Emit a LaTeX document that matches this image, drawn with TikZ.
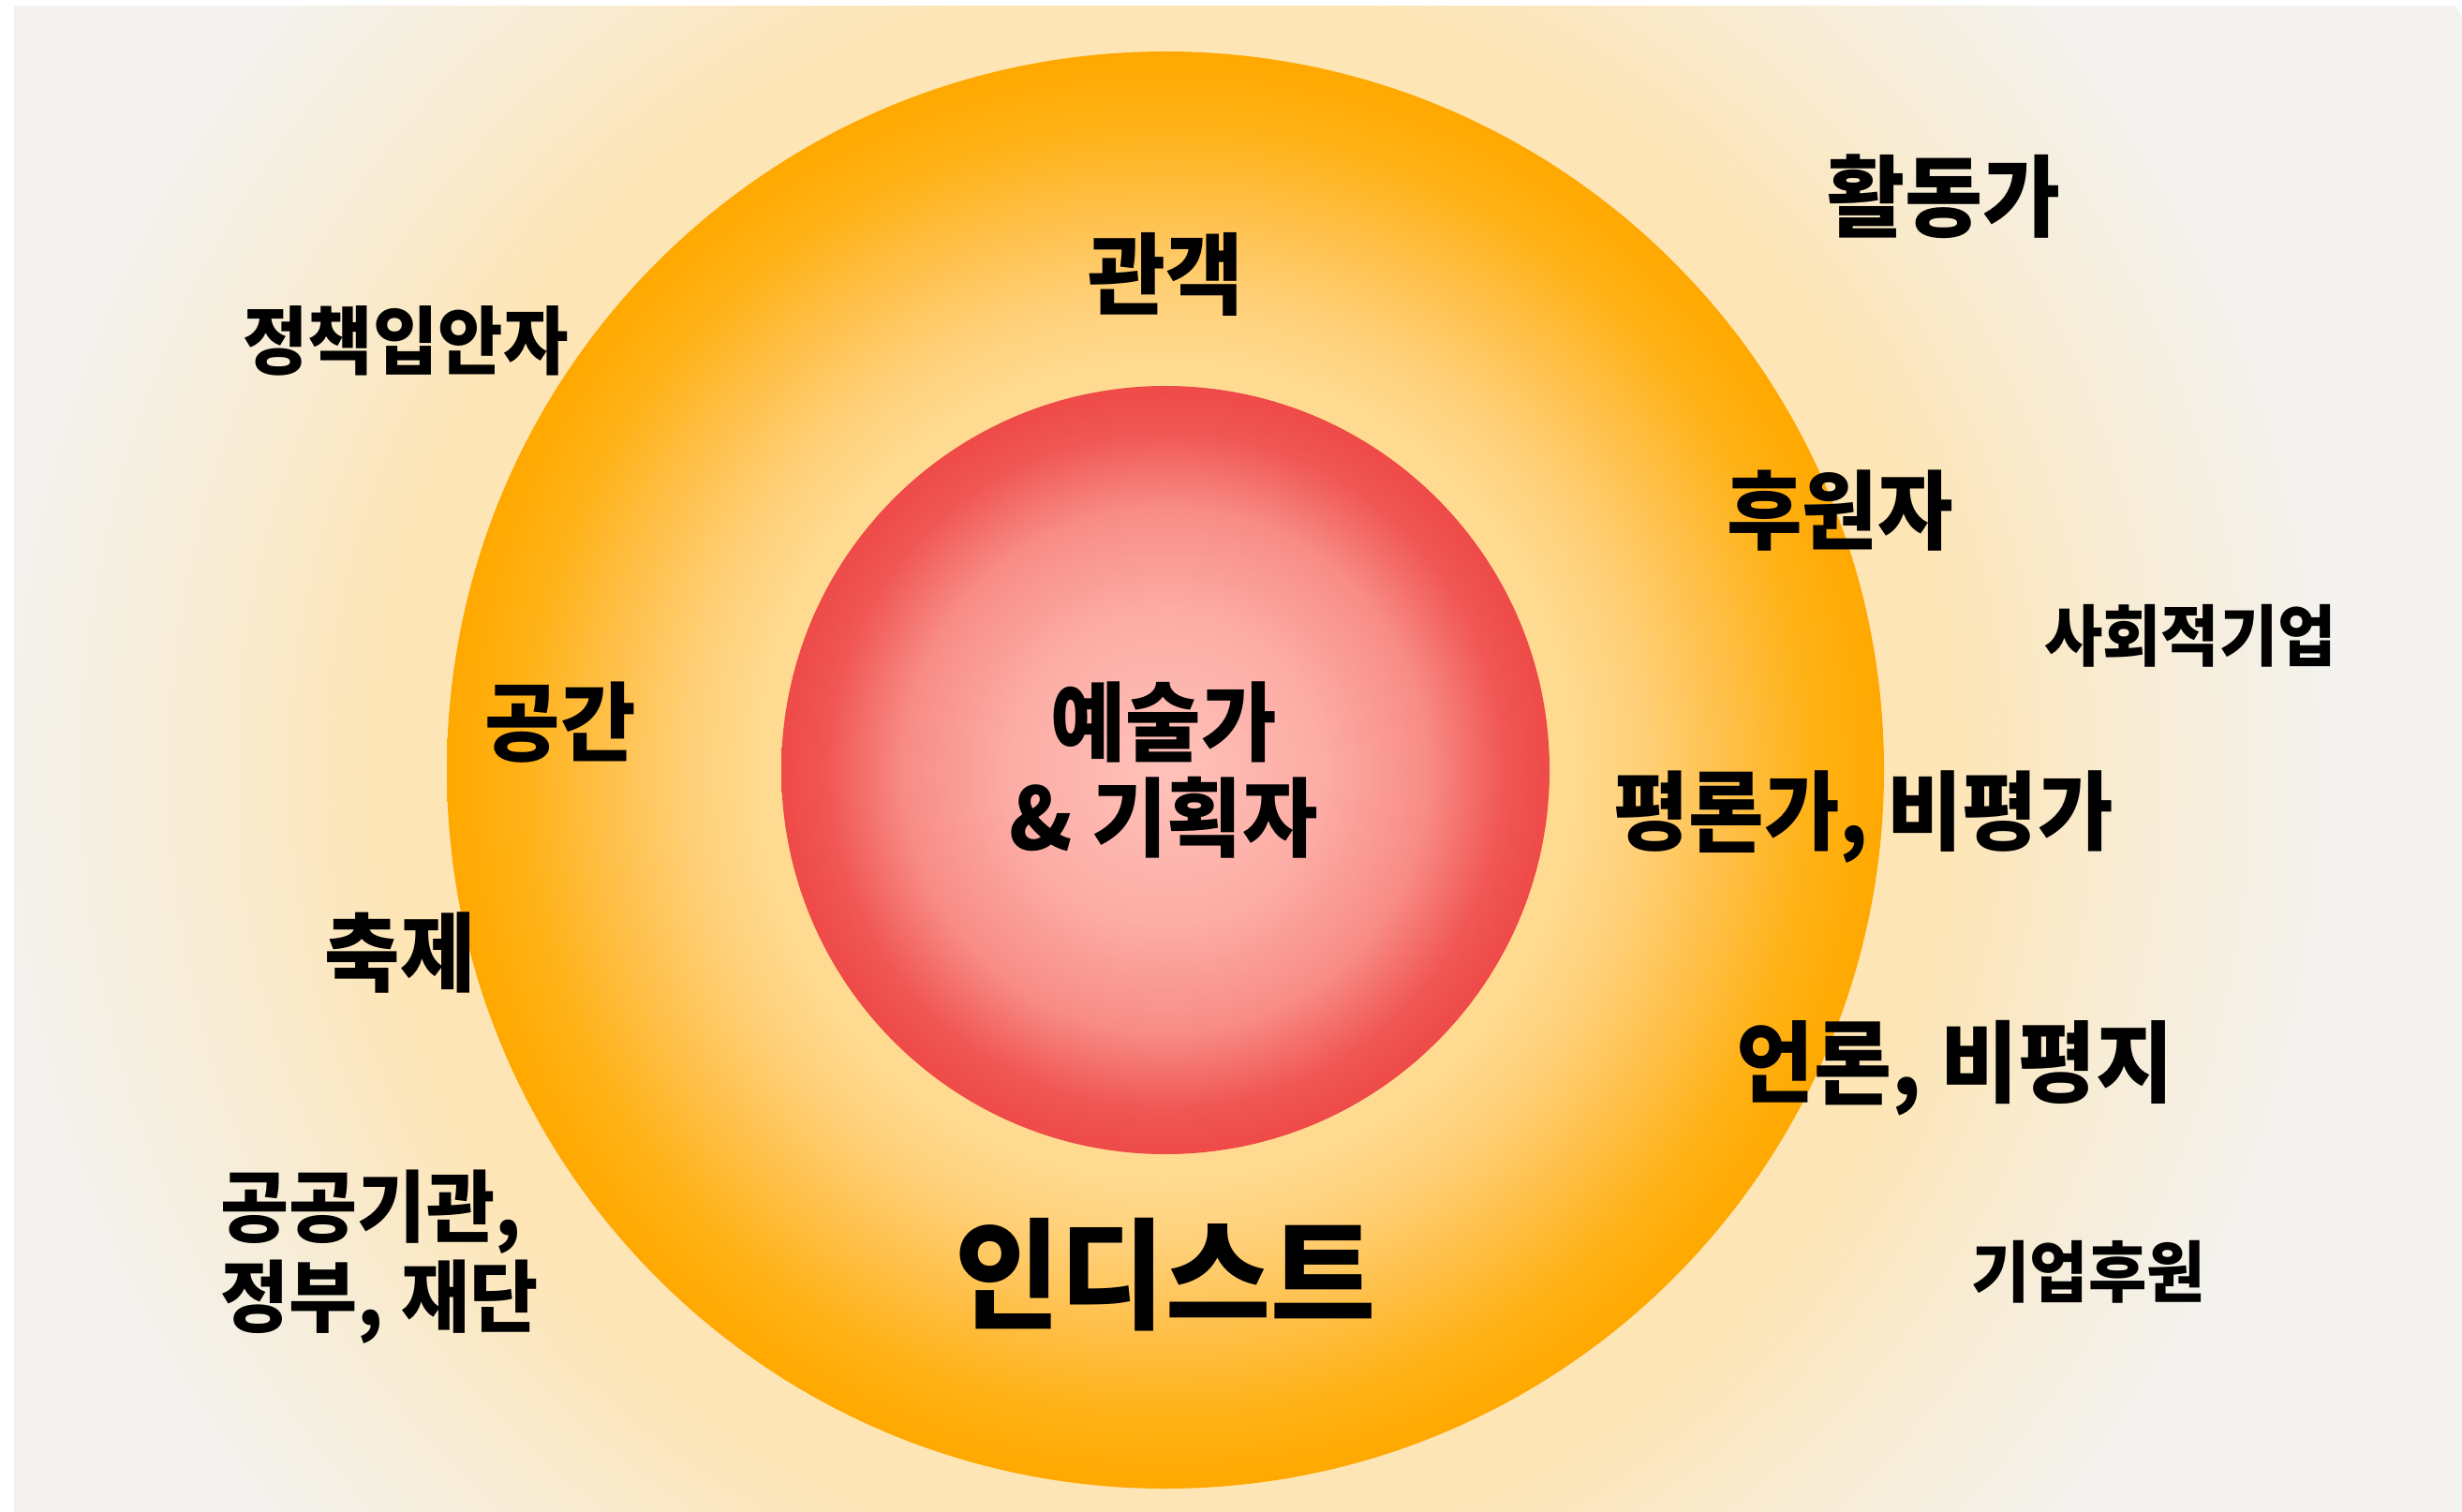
\documentclass[tikz,border=0pt]{standalone}
\usepackage{fontspec}
\setmainfont{Noto Sans CJK KR}[FakeStretch=0.95]
\definecolor{bgpeach}{HTML}{FDE5B5}
\definecolor{bggrey}{HTML}{F3F2EE}
\colorlet{bgmid}{bgpeach!45!bggrey}
\definecolor{orpale}{HTML}{FFDB92}
\definecolor{orlite}{HTML}{FFD079}
\definecolor{ormid}{HTML}{FFC04A}
\definecolor{ordeep}{HTML}{FFB216}
\definecolor{oredge}{HTML}{FFA800}
\definecolor{rdpale}{HTML}{FFC2BA}
\definecolor{rdlite}{HTML}{FCADA5}
\definecolor{rdmid}{HTML}{F88C86}
\definecolor{rdedge}{HTML}{EE4A48}
\pgfdeclareradialshading{bgglow}{\pgfpoint{0bp}{0bp}}{color(0bp)=(bgpeach); color(13bp)=(bgpeach); color(16.2bp)=(bgmid); color(19.5bp)=(bggrey); color(50bp)=(bggrey)}
\pgfdeclareradialshading{ringglow}{\pgfpoint{0bp}{0bp}}{color(0bp)=(orpale); color(14bp)=(orpale); color(16.5bp)=(orlite); color(19.5bp)=(ormid); color(22.5bp)=(ordeep); color(25bp)=(oredge); color(50bp)=(oredge)}
\pgfdeclareradialshading{coreglow}{\pgfpoint{0bp}{0bp}}{color(0bp)=(rdpale); color(10bp)=(rdlite); color(17bp)=(rdmid); color(22bp)=(rdedge!80!rdmid); color(25bp)=(rdedge); color(50bp)=(rdedge)}
\tikzset{
  lbl/.style={font=\bfseries\fontsize{26.2}{29}\selectfont, inner sep=0pt, align=center},
  widelbl/.style={lbl, font=\bfseries\fontsize{27}{30}\selectfont},
  midlbl/.style={lbl, font=\bfseries\fontsize{22.6}{26}\selectfont},
  smalllbl/.style={lbl, font=\bfseries\fontsize{20.3}{24}\selectfont},
  titlelbl/.style={lbl, font=\bfseries\fontsize{36.5}{42}\selectfont}
}
\begin{document}
\begin{tikzpicture}
  \useasboundingbox (0,0) rectangle (26.28,16.13);
  \coordinate (c) at (12.44,7.91);
  % soft glow round the rings
  \begin{scope}
    \clip (0.15,0) rectangle (26.28,16.06);
    \shade[shading=bgglow] (c) circle (16);
  \end{scope}
  \shade[shading=ringglow] (c) circle (7.67);
  \shade[shading=coreglow] (c) circle (4.10);
  % inner circle
  \node[lbl] (artist) at (12.42,7.91) {예술가\\\& 기획자};
  % middle ring
  \node[widelbl] (audience) at (12.44,13.20) {관객};
  \node[lbl] (space) at (5.98,8.42) {공간};
  \node[lbl] (sponsor) at (19.64,10.68) {후원자};
  \node[lbl] (critic) at (19.89,7.41) {평론가, 비평가};
  \node[widelbl] (press) at (20.87,4.73) {언론, 비평지};
  \node[titlelbl] (indist) at (12.44,2.52) {인디스트};
  % outer field
  \node[widelbl] (activist) at (20.75,14.03) {활동가};
  \node[midlbl] (policy) at (4.33,12.49) {정책입안자};
  \node[smalllbl] (social) at (23.38,9.34) {사회적기업};
  \node[lbl] (festival) at (4.27,5.96) {축제};
  \node[lbl, anchor=west, align=left, font=\bfseries\fontsize{23.8}{27.3}\selectfont] (public) at (2.35,2.71) {공공기관,\\정부, 재단};
  \node[smalllbl] (corp) at (22.29,2.55) {기업후원};
\end{tikzpicture}
\end{document}
